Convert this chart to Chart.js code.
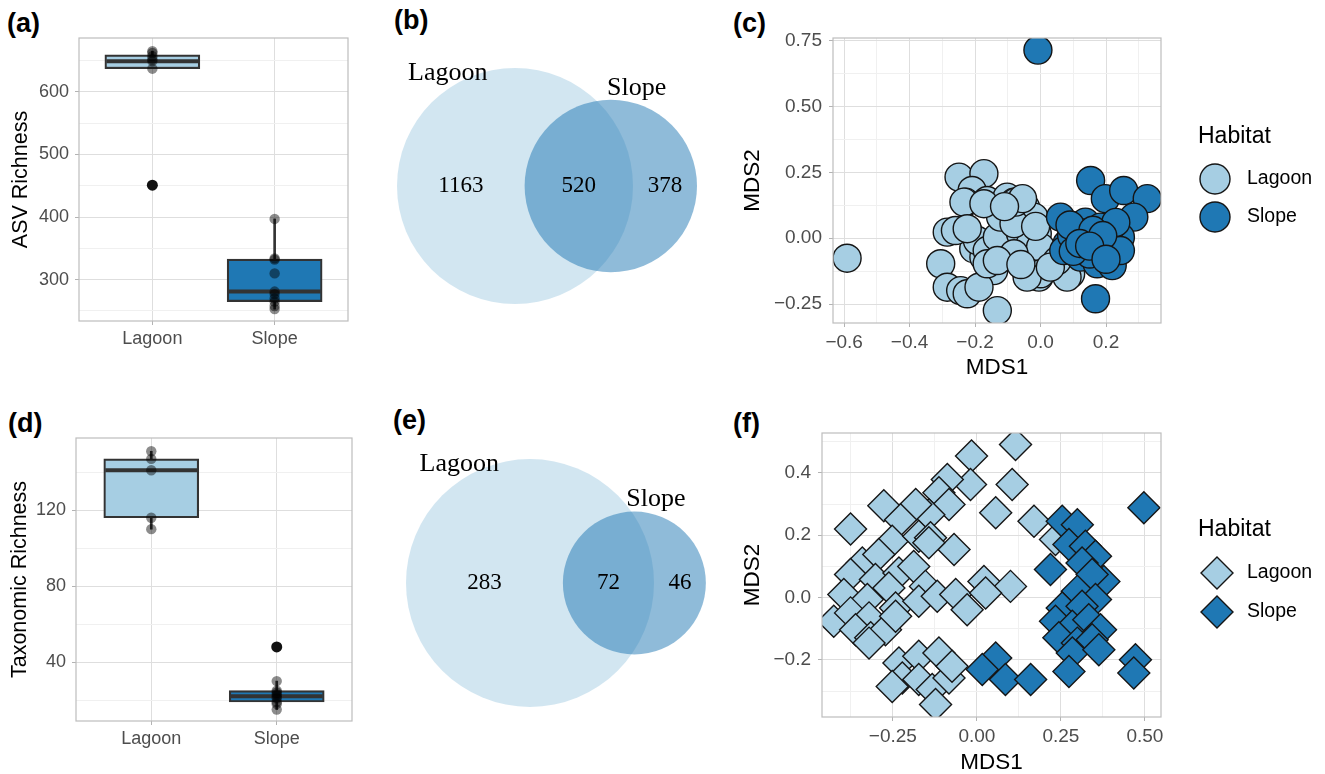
<!DOCTYPE html>
<html>
<head>
<meta charset="utf-8">
<script src="https://cdn.jsdelivr.net/npm/chart.js@4.4.1/dist/chart.umd.min.js"></script>
<style>
html,body{margin:0;padding:0;background:#fff;}
body{width:1325px;height:774px;position:relative;overflow:hidden;font-family:"Liberation Sans",Arial,sans-serif;}
canvas{position:absolute;}
.tag{position:absolute;font-weight:bold;font-size:27px;line-height:1;color:#000;}
</style>
</head>
<body>
<div class="tag" style="left:7px;top:10px">(a)</div>
<div class="tag" style="left:394px;top:7px">(b)</div>
<div class="tag" style="left:733px;top:10px">(c)</div>
<div class="tag" style="left:8px;top:410px">(d)</div>
<div class="tag" style="left:393px;top:407px">(e)</div>
<div class="tag" style="left:733px;top:410px">(f)</div>

<canvas id="cA" width="360" height="380" style="left:0;top:0"></canvas>
<canvas id="cB" width="360" height="390" style="left:370px;top:0"></canvas>
<canvas id="cC" width="605" height="390" style="left:720px;top:0"></canvas>
<canvas id="cD" width="360" height="374" style="left:0;top:400px"></canvas>
<canvas id="cE" width="360" height="374" style="left:370px;top:400px"></canvas>
<canvas id="cF" width="605" height="374" style="left:720px;top:400px"></canvas>

<script>
// ---------------- DATA ----------------
const categories = ['Lagoon', 'Slope'];
const habitats = ['Lagoon', 'Slope'];

// (a) ASV richness box plot
const asvLower  = [637, 253];
const asvQ1     = [637, 265];
const asvMedian = [649, 281];
const asvQ3     = [659, 333];
const asvUpper  = [665, 397];
const asvLagoonPoints = [665, 662, 657, 652, 649, 637];
const asvSlopePoints  = [397, 334, 332, 310, 281, 277, 270, 265, 258, 253];
const asvLagoonOutliers = [451];
const asvSlopeOutliers  = [];
const asvTicks = [300, 400, 500, 600];
const asvTickLabels = ['300', '400', '500', '600'];

// (d) Taxonomic richness box plot
const taxLower  = [110, 15];
const taxQ1     = [116, 19];
const taxMedian = [141, 22];
const taxQ3     = [147, 25];
const taxUpper  = [151, 30];
const taxLagoonPoints = [151, 147, 141, 116, 110];
const taxSlopePoints  = [30, 25, 24, 23, 22, 21, 19, 18, 15];
const taxLagoonOutliers = [];
const taxSlopeOutliers  = [48];
const taxTicks = [40, 80, 120];
const taxTickLabels = ['40', '80', '120'];

// (b),(e) Venn counts: [Lagoon only, shared, Slope only]
const vennSets = ['Lagoon', 'Slope'];
const asvVenn = [1163, 520, 378];
const taxVenn = [283, 72, 46];

// (c) ASV nMDS
const asvLagoonMDS1 = [-0.591,-0.249,-0.173,-0.209,-0.229,-0.163,-0.102,-0.081,-0.046,-0.025,-0.102,-0.010,-0.285,-0.223,-0.204,-0.173,-0.092,-0.143,-0.036,-0.005,-0.305,-0.285,-0.244,-0.224,-0.188,-0.132,0.061,-0.260,-0.193,-0.163,-0.132,-0.061,-0.031,0.000,-0.020,0.071,0.092,0.081,-0.163,-0.081,-0.122,-0.081,-0.132,0.000,-0.234,-0.076,-0.041,-0.173,-0.224,0.051,-0.055,-0.015,0.030,-0.110,-0.060];
const asvLagoonMDS2 = [-0.076,0.232,0.245,0.181,0.137,0.143,0.156,0.137,0.118,0.067,0.093,0.017,0.023,0.029,-0.040,-0.072,-0.028,-0.123,-0.142,-0.148,-0.097,-0.186,-0.199,-0.211,-0.186,-0.275,-0.085,0.029,-0.009,-0.047,0.004,0.017,-0.021,-0.034,0.080,-0.097,-0.135,-0.148,-0.097,-0.059,0.080,0.055,-0.085,-0.135,0.137,0.137,-0.148,0.131,0.036,-0.085,0.150,0.045,-0.110,0.120,-0.100];
const asvSlopeMDS1 = [-0.008,0.153,0.198,0.254,0.326,0.285,0.061,0.102,0.137,0.183,0.224,0.244,0.081,0.112,0.143,0.183,0.214,0.163,0.122,0.173,0.219,0.168,0.071,0.204,0.244,0.095,0.130,0.150,0.100,0.230,0.090,0.160,0.190,0.120,0.150,0.200];
const asvSlopeMDS2 = [0.714,0.219,0.150,0.181,0.150,0.080,0.080,0.042,0.061,0.042,0.029,0.004,-0.021,-0.034,-0.009,-0.021,-0.021,-0.047,-0.072,-0.097,-0.104,-0.230,-0.047,-0.059,-0.047,0.010,0.020,-0.060,-0.050,0.060,0.050,0.030,0.010,-0.020,-0.030,-0.080];
const cXTicks = [-0.6, -0.4, -0.2, 0.0, 0.2];
const cXTickLabels = ['\u22120.6', '\u22120.4', '\u22120.2', '0.0', '0.2'];
const cYTicks = [-0.25, 0.0, 0.25, 0.5, 0.75];
const cYTickLabels = ['\u22120.25', '0.00', '0.25', '0.50', '0.75'];

// (f) Taxonomic nMDS
const taxLagoonMDS1 = [0.115,-0.016,0.105,-0.019,-0.088,-0.113,-0.083,-0.143,-0.182,-0.277,-0.227,0.056,0.170,-0.376,-0.252,-0.173,-0.138,-0.068,0.234,-0.341,-0.292,-0.376,-0.302,-0.232,-0.188,-0.153,-0.262,-0.396,-0.326,-0.242,-0.173,-0.118,-0.063,0.021,0.100,-0.029,0.026,-0.426,-0.376,-0.321,-0.361,-0.316,-0.272,-0.232,-0.173,-0.113,-0.222,-0.252,-0.173,-0.133,-0.083,-0.123,-0.074,-0.143,-0.321,-0.242];
const taxLagoonMDS2 = [0.491,0.454,0.363,0.363,0.379,0.336,0.299,0.266,0.299,0.295,0.250,0.272,0.245,0.220,0.181,0.197,0.192,0.154,0.186,0.111,0.138,0.074,0.058,0.079,0.100,0.036,0.031,0.010,-0.006,-0.033,-0.012,0.004,0.010,0.052,0.036,-0.039,0.015,-0.076,-0.049,-0.065,-0.103,-0.129,-0.103,-0.210,-0.188,-0.178,-0.258,-0.285,-0.263,-0.295,-0.258,-0.343,-0.220,0.176,-0.146,-0.060];
const taxSlopeMDS1 = [0.497,0.254,0.299,0.274,0.323,0.353,0.313,0.219,0.378,0.343,0.299,0.353,0.254,0.313,0.234,0.284,0.333,0.368,0.244,0.299,0.343,0.284,0.363,0.274,0.472,0.467,0.056,0.016,0.085,0.160];
const taxSlopeMDS2 = [0.288,0.245,0.234,0.170,0.165,0.133,0.111,0.090,0.052,0.074,0.020,-0.006,-0.033,-0.028,-0.076,-0.092,-0.071,-0.103,-0.129,-0.146,-0.135,-0.178,-0.167,-0.237,-0.199,-0.242,-0.194,-0.231,-0.263,-0.263];
const fXTicks = [-0.25, 0.0, 0.25, 0.5];
const fXTickLabels = ['\u22120.25', '0.00', '0.25', '0.50'];
const fYTicks = [-0.2, 0.0, 0.2, 0.4];
const fYTickLabels = ['\u22120.2', '0.0', '0.2', '0.4'];

// ---------------- STYLE ----------------
const LAGOON = '#a6cee3';
const SLOPE = '#1f78b4';
Chart.defaults.font.family = '"Liberation Sans", Arial, sans-serif';
Chart.defaults.animation = false;
Chart.defaults.responsive = false;
Chart.defaults.devicePixelRatio = 1;
Chart.defaults.events = [];

function minorTicks(major, min, max) {
  const step = major[1] - major[0];
  const out = [];
  for (let v = major[0] - step / 2; v <= max + 1e-9; v += step) if (v >= min - 1e-9) out.push(+v.toFixed(6));
  return out;
}

function axis(o) {
  const isMajor = v => o.major.some(m => Math.abs(m - v) < 1e-9);
  const all = o.major.concat(o.minor || []).sort((a, b) => a - b);
  return {
    type: 'linear', min: o.min, max: o.max, offset: false, beginAtZero: false,
    afterBuildTicks: s => { s.ticks = all.map(v => ({ value: v })); },
    afterFit: s => { if (o.horizontal) s.height = o.size; else s.width = o.size; },
    ticks: {
      autoSkip: false, maxRotation: 0, minRotation: 0, padding: o.tickPad, color: '#4d4d4d',
      font: { size: o.fontSize },
      callback: v => { const i = o.major.findIndex(m => Math.abs(m - v) < 1e-9); return i >= 0 ? o.labels[i] : ''; }
    },
    grid: {
      offset: false, drawTicks: true, tickLength: 4, lineWidth: 1,
      color: c => (c.tick && isMajor(c.tick.value)) ? '#dedede' : '#f0f0f0',
      tickColor: c => (c.tick && isMajor(c.tick.value)) ? '#b3b3b3' : 'rgba(0,0,0,0)'
    },
    border: { display: false },
    title: o.title ? { display: true, text: o.title, color: '#000', font: { size: o.titleSize, lineHeight: 1 }, padding: o.titlePad } : { display: false }
  };
}

const panelBorder = {
  id: 'panelBorder',
  afterDatasetsDraw(chart) {
    const { ctx, chartArea: a } = chart;
    ctx.save();
    ctx.strokeStyle = '#bdbdbd';
    ctx.lineWidth = 1.2;
    ctx.strokeRect(a.left, a.top, a.right - a.left, a.bottom - a.top);
    ctx.restore();
  }
};

const habitatLegend = {
  id: 'habitatLegend',
  afterDraw(chart, args, o) {
    const ctx = chart.ctx;
    ctx.save();
    ctx.textAlign = 'left';
    ctx.textBaseline = 'middle';
    ctx.fillStyle = '#000';
    ctx.font = o.titleSize + 'px "Liberation Sans", Arial, sans-serif';
    ctx.fillText(o.title, o.titleX, o.titleY);
    ctx.font = o.labelSize + 'px "Liberation Sans", Arial, sans-serif';
    habitats.forEach((h, k) => {
      const ds = chart.data.datasets.find(d => d.label === h);
      const y = o.itemY[k];
      ctx.fillStyle = ds.pointBackgroundColor;
      ctx.strokeStyle = ds.pointBorderColor;
      ctx.lineWidth = ds.pointBorderWidth;
      Chart.helpers.drawPoint(ctx, { pointStyle: ds.pointStyle, radius: o.markerRadius, rotation: 0, borderWidth: ds.pointBorderWidth }, o.markerX, y);
      ctx.fillStyle = '#000';
      ctx.fillText(h, o.textX, y);
    });
    ctx.restore();
  }
};

// ---------------- BOX PLOTS ----------------
function boxChart(id, s, o) {
  const pts = [], outs = [];
  s.points.forEach((arr, i) => arr.forEach(v => pts.push({ x: i + 1, y: v })));
  s.outliers.forEach((arr, i) => arr.forEach(v => outs.push({ x: i + 1, y: v })));
  new Chart(document.getElementById(id), {
    type: 'bar',
    data: {
      datasets: [
        { type: 'scatter', label: 'outliers', data: outs, pointRadius: 5.5, pointBackgroundColor: '#111', pointBorderWidth: 0, order: 0 },
        { type: 'scatter', label: 'samples', data: pts, pointRadius: 5.2, pointBackgroundColor: 'rgba(0,0,0,0.45)', pointBorderWidth: 0, order: 1 },
        { type: 'scatter', label: 'median', data: s.median.map((m, i) => ({ x: i + 1, y: m })), pointStyle: 'line', pointRadius: o.boxW / 2 - 1.5, pointBorderColor: '#333', pointBorderWidth: 4, order: 2 },
        { type: 'bar', label: 'box', data: s.q1.map((q, i) => ({ x: i + 1, y: [q, s.q3[i]] })), backgroundColor: [LAGOON, SLOPE], borderColor: '#333', borderWidth: 2.2, borderSkipped: false, barThickness: o.boxW, grouped: false, order: 3 },
        { type: 'bar', label: 'whisker', data: s.lower.map((l, i) => ({ x: i + 1, y: [l, s.upper[i]] })), backgroundColor: '#333', borderWidth: 0, barThickness: 2, grouped: false, order: 4 }
      ]
    },
    options: {
      layout: { autoPadding: false, padding: o.padding },
      scales: {
        x: axis({ min: 0.4, max: 2.6, major: [1, 2], labels: categories, minor: [], horizontal: true, size: o.xSize, fontSize: 18, tickPad: 3 }),
        y: axis({ min: o.yMin, max: o.yMax, major: o.ticks, labels: o.tickLabels, minor: minorTicks(o.ticks, o.yMin, o.yMax), size: o.ySize, fontSize: 18, tickPad: 6, title: o.title, titleSize: 21.5, titlePad: { top: o.titlePadTop, bottom: 0 } })
      },
      plugins: { legend: { display: false }, tooltip: { enabled: false } }
    },
    plugins: [panelBorder]
  });
}

boxChart('cA', {
  lower: asvLower, q1: asvQ1, median: asvMedian, q3: asvQ3, upper: asvUpper,
  points: [asvLagoonPoints, asvSlopePoints], outliers: [asvLagoonOutliers, asvSlopeOutliers]
}, { boxW: 95, padding: { top: 38, right: 12, left: 0, bottom: 0 }, xSize: 59, ySize: 79, yMin: 234, yMax: 686,
     ticks: asvTicks, tickLabels: asvTickLabels, title: 'ASV Richness', titlePadTop: 10 });

boxChart('cD', {
  lower: taxLower, q1: taxQ1, median: taxMedian, q3: taxQ3, upper: taxUpper,
  points: [taxLagoonPoints, taxSlopePoints], outliers: [taxLagoonOutliers, taxSlopeOutliers]
}, { boxW: 95, padding: { top: 38, right: 8, left: 0, bottom: 0 }, xSize: 53, ySize: 76, yMin: 9, yMax: 158,
     ticks: taxTicks, tickLabels: taxTickLabels, title: 'Taxonomic Richness', titlePadTop: 9 });

// ---------------- VENN ----------------
function lensArea(r1, r2, d) {
  if (d >= r1 + r2) return 0;
  if (d <= Math.abs(r1 - r2)) return Math.PI * Math.min(r1, r2) ** 2;
  const a = r1 * r1 * Math.acos((d * d + r1 * r1 - r2 * r2) / (2 * d * r1));
  const b = r2 * r2 * Math.acos((d * d + r2 * r2 - r1 * r1) / (2 * d * r2));
  const c = 0.5 * Math.sqrt((-d + r1 + r2) * (d + r1 - r2) * (d - r1 + r2) * (d + r1 + r2));
  return a + b - c;
}

const vennText = {
  id: 'vennText',
  afterDatasetsDraw(chart, args, o) {
    const { ctx } = chart;
    const xs = chart.scales.x, ys = chart.scales.y;
    const px = v => xs.getPixelForValue(v), py = v => ys.getPixelForValue(v);
    const { cx1, cx2, cy, r1, r2, counts } = o;
    ctx.save();
    ctx.fillStyle = '#000';
    ctx.textAlign = 'center';
    ctx.textBaseline = 'middle';
    ctx.font = '23px "Liberation Serif", "Times New Roman", serif';
    const mids = [((cx1 - r1) + (cx2 - r2)) / 2, ((cx2 - r2) + (cx1 + r1)) / 2, ((cx1 + r1) + (cx2 + r2)) / 2];
    counts.forEach((n, i) => ctx.fillText(String(n), px(mids[i]), py(cy)));
    ctx.font = '26px "Liberation Serif", "Times New Roman", serif';
    ctx.fillText(vennSets[0], px(cx1 - 0.57 * r1), py(cy - r1 + 5));
    ctx.fillText(vennSets[1], px(cx2 + 0.30 * r2), py(cy - r2 - 12));
    ctx.restore();
  }
};

function venn(id, counts, o) {
  const tot1 = counts[0] + counts[1], tot2 = counts[1] + counts[2];
  const r1 = o.r1, r2 = r1 * Math.sqrt(tot2 / tot1);
  const target = counts[1] / tot1 * Math.PI * r1 * r1;
  let lo = Math.abs(r1 - r2), hi = r1 + r2;
  for (let i = 0; i < 60; i++) { const m = (lo + hi) / 2; if (lensArea(r1, r2, m) > target) lo = m; else hi = m; }
  const d = (lo + hi) / 2;
  const cx1 = o.cx, cx2 = o.cx + d, cy = o.cy;
  new Chart(document.getElementById(id), {
    type: 'bubble',
    data: {
      datasets: [
        { label: vennSets[1], data: [{ x: cx2, y: cy, r: r2 }], backgroundColor: 'rgba(31,120,180,0.5)', borderWidth: 0, order: 0, clip: false },
        { label: vennSets[0], data: [{ x: cx1, y: cy, r: r1 }], backgroundColor: 'rgba(166,206,227,0.5)', borderWidth: 0, order: 1, clip: false }
      ]
    },
    options: {
      layout: { autoPadding: false, padding: 0 },
      scales: {
        x: { type: 'linear', display: false, min: 0, max: o.w },
        y: { type: 'linear', display: false, min: 0, max: o.h, reverse: true }
      },
      plugins: { legend: { display: false }, tooltip: { enabled: false }, vennText: { cx1, cx2, cy, r1, r2, counts } }
    },
    plugins: [vennText]
  });
}

venn('cB', asvVenn, { w: 360, h: 390, cx: 145, cy: 186, r1: 118 });
venn('cE', taxVenn, { w: 360, h: 374, cx: 160, cy: 183, r1: 124 });

// ---------------- nMDS SCATTERS ----------------
function zip(xs, ys) { return xs.map((x, i) => ({ x, y: ys[i] })); }

function mdsChart(id, lx, ly, sx, sy, o) {
  new Chart(document.getElementById(id), {
    type: 'scatter',
    data: {
      datasets: [
        { label: 'Slope', data: zip(sx, sy), pointStyle: o.style, pointRadius: o.r, pointBackgroundColor: SLOPE, pointBorderColor: '#151515', pointBorderWidth: 1.4, order: 0, clip: 0 },
        { label: 'Lagoon', data: zip(lx, ly), pointStyle: o.style, pointRadius: o.r, pointBackgroundColor: LAGOON, pointBorderColor: '#151515', pointBorderWidth: 1.4, order: 1, clip: 0 }
      ]
    },
    options: {
      layout: { autoPadding: false, padding: o.padding },
      scales: {
        x: axis({ min: o.xMin, max: o.xMax, major: o.xTicks, labels: o.xLabels, minor: minorTicks(o.xTicks, o.xMin, o.xMax), horizontal: true, size: o.xSize, fontSize: 19, tickPad: 4.5, title: 'MDS1', titleSize: 22.5, titlePad: { top: 0, bottom: o.xTitlePad } }),
        y: axis({ min: o.yMin, max: o.yMax, major: o.yTicks, labels: o.yLabels, minor: minorTicks(o.yTicks, o.yMin, o.yMax), size: o.ySize, fontSize: 19, tickPad: 7, title: 'MDS2', titleSize: 22.5, titlePad: { top: 21.75, bottom: 0 } })
      },
      plugins: { legend: { display: false }, tooltip: { enabled: false }, habitatLegend: o.legend }
    },
    plugins: [panelBorder, habitatLegend]
  });
}

mdsChart('cC', asvLagoonMDS1, asvLagoonMDS2, asvSlopeMDS1, asvSlopeMDS2, {
  style: 'circle', r: 14, padding: { top: 38, right: 164, left: 0, bottom: 0 },
  xMin: -0.634, xMax: 0.368, yMin: -0.322, yMax: 0.76,
  xTicks: cXTicks, xLabels: cXTickLabels, yTicks: cYTicks, yLabels: cYTickLabels,
  xSize: 67, ySize: 113, xTitlePad: 10.75,
  legend: { title: 'Habitat', titleSize: 23, labelSize: 19.5, titleX: 478, titleY: 137, markerX: 495, markerRadius: 15, itemY: [179, 217], textX: 527 }
});

mdsChart('cF', taxLagoonMDS1, taxLagoonMDS2, taxSlopeMDS1, taxSlopeMDS2, {
  style: 'rectRot', r: 16, padding: { top: 33, right: 164, left: 0, bottom: 0 },
  xMin: -0.461, xMax: 0.548, yMin: -0.383, yMax: 0.528,
  xTicks: fXTicks, xLabels: fXTickLabels, yTicks: fYTicks, yLabels: fYTickLabels,
  xSize: 57, ySize: 102, xTitlePad: 0,
  legend: { title: 'Habitat', titleSize: 23, labelSize: 19.5, titleX: 478, titleY: 130, markerX: 497, markerRadius: 16, itemY: [173, 212], textX: 527 }
});
</script>
</body>
</html>
